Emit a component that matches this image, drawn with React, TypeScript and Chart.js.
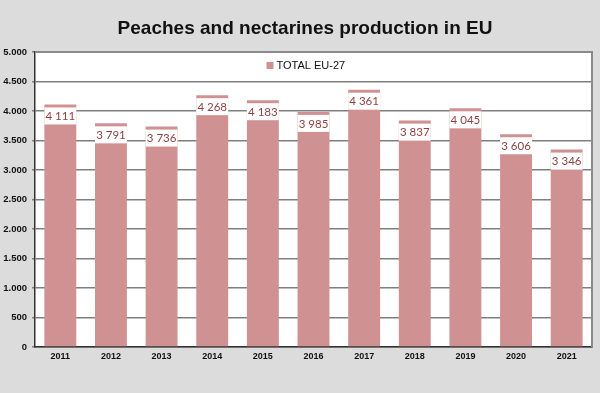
import React, { useEffect, useRef } from "react";
import { Chart, registerables } from "chart.js";

Chart.register(...registerables);

const years = ["2011", "2012", "2013", "2014", "2015", "2016", "2017", "2018", "2019", "2020", "2021"];
const production = [4111, 3791, 3736, 4268, 4183, 3985, 4361, 3837, 4045, 3606, 3346];
const seriesName = "TOTAL EU-27";
const titleText = "Peaches and nectarines production in EU";

const BAR = "#cf9191";
const BG = "#dcdcdc";

const fmtDot = (v: number) => String(v).replace(/\B(?=(\d{3})+(?!\d))/g, ".");
const fmtSpace = (v: number) => String(v).replace(/\B(?=(\d{3})+(?!\d))/g, " ");

const decorPlugin = {
  id: "decor",
  beforeDraw(chart: any) {
    const { ctx, width, height, chartArea } = chart;
    ctx.save();
    ctx.fillStyle = BG;
    ctx.fillRect(0, 0, width, height);
    ctx.fillStyle = "#ffffff";
    ctx.fillRect(chartArea.left, chartArea.top, chartArea.right - chartArea.left, chartArea.bottom - chartArea.top);
    ctx.fillStyle = "#111";
    ctx.font = "bold 19px 'Liberation Sans', Arial, sans-serif";
    ctx.textAlign = "center";
    ctx.textBaseline = "middle";
    ctx.fillText(titleText, 305, 29);
    ctx.restore();
  },
  afterDatasetsDraw(chart: any) {
    const { ctx, chartArea } = chart;
    const meta = chart.getDatasetMeta(0);
    ctx.save();
    meta.data.forEach((bar: any, i: number) => {
      const w = bar.width;
      const top = bar.y + 3;
      ctx.fillStyle = "#ffffff";
      ctx.fillRect(bar.x - w / 2, top, w, 17);
      ctx.fillStyle = "#8e4242";
      ctx.font = "11.5px Lato, 'Open Sans', sans-serif";
      ctx.textAlign = "center";
      ctx.textBaseline = "middle";
      ctx.fillText(fmtSpace(production[i]), bar.x, top + 9);
    });
    ctx.strokeStyle = "#8a8a8a";
    ctx.lineWidth = 2;
    ctx.beginPath();
    ctx.moveTo(chartArea.left, chartArea.top);
    ctx.lineTo(chartArea.right, chartArea.top);
    ctx.lineTo(chartArea.right, chartArea.bottom);
    ctx.stroke();
    const cx = (chartArea.left + chartArea.right) / 2;
    ctx.fillStyle = BAR;
    ctx.fillRect(cx - 47, chartArea.top + 10, 7, 7);
    ctx.fillStyle = "#111";
    ctx.font = "11px 'Liberation Sans', Arial, sans-serif";
    ctx.textAlign = "left";
    ctx.textBaseline = "middle";
    ctx.fillText(seriesName, cx - 37, chartArea.top + 14);
    ctx.restore();
  },
};

export default function App() {
  const ref = useRef<HTMLCanvasElement>(null);
  useEffect(() => {
    document.body.style.margin = "0";
    const chart = new Chart(ref.current as HTMLCanvasElement, {
      type: "bar",
      data: {
        labels: years,
        datasets: [
          {
            label: seriesName,
            data: production,
            backgroundColor: BAR,
            borderWidth: 0,
            barPercentage: 0.63,
            categoryPercentage: 1,
          },
        ],
      },
      options: {
        animation: false,
        responsive: false,
        layout: { padding: { top: 52, right: 8, left: 0, bottom: 0 } },
        plugins: { legend: { display: false }, title: { display: false }, tooltip: { enabled: false } },
        scales: {
          x: {
            grid: { display: false, drawTicks: false },
            border: { display: true, color: "#333", width: 1.5 },
            ticks: {
              color: "#111",
              font: { family: "'Liberation Sans', Arial, sans-serif", size: 9, weight: "bold" },
              padding: 4,
              maxRotation: 0,
            },
            afterFit: (s: any) => {
              s.height = 46;
            },
          },
          y: {
            min: 0,
            max: 5000,
            grid: { color: "#7f7f7f", lineWidth: 1.5, tickLength: 3, drawTicks: true },
            border: { display: true, color: "#333", width: 1.5 },
            ticks: {
              stepSize: 500,
              color: "#111",
              font: { family: "'Liberation Sans', Arial, sans-serif", size: 9.5, weight: "bold" },
              padding: 5,
              callback: (v: any) => fmtDot(Number(v)),
            },
            afterFit: (s: any) => {
              s.width = 35;
            },
          },
        },
      },
      plugins: [decorPlugin],
    });
    return () => chart.destroy();
  }, []);
  return (
    <div style={{ width: 600, height: 393 }}>
      <canvas ref={ref} width={600} height={393} style={{ display: "block" }} />
    </div>
  );
}
